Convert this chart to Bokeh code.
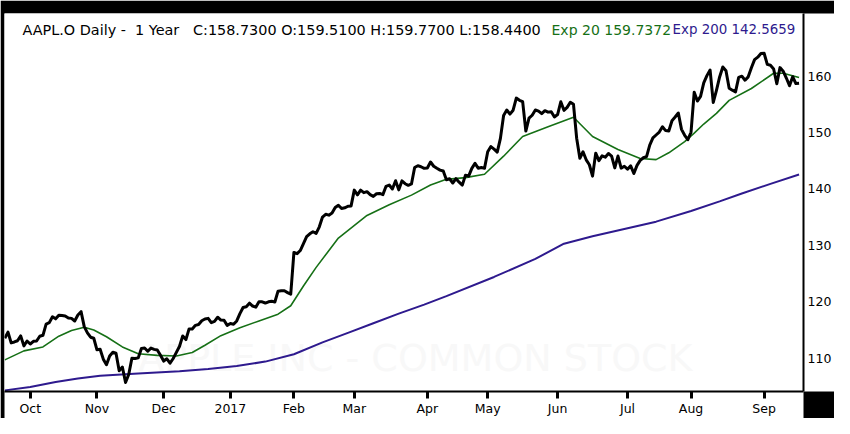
from bokeh.plotting import figure
from bokeh.models import FixedTicker, Range1d, Label
from bokeh.embed import file_html
from bokeh.resources import INLINE

# ---- data (daily closes, trading-day order) ----
close_2016_09 = [113.55, 114.62, 112.71, 112.88, 113.09, 113.95, 112.18, 113.05]
close_2016_10 = [112.52, 113.00, 113.05, 113.89, 114.06, 116.05, 116.30, 117.34, 116.98, 117.63,
                 117.55, 117.47, 117.12, 117.06, 116.60, 117.65, 118.25, 115.59, 114.48, 113.72, 113.54]
close_2016_11 = [111.49, 111.59, 109.83, 108.84, 110.41, 111.06, 110.88, 107.79, 108.43, 105.71,
                 107.11, 109.99, 109.95, 110.06, 111.73, 111.80, 111.23, 111.79, 111.57, 111.46, 110.52]
close_2016_12 = [109.49, 109.90, 109.11, 109.95, 111.03, 112.12, 113.95, 113.30, 115.19, 115.19,
                 115.82, 115.97, 116.64, 116.95, 117.06, 116.29, 116.52, 117.26, 116.76, 116.73, 115.82]
close_2017_01 = [116.15, 116.02, 116.61, 117.91, 118.99, 119.11, 119.75, 119.25, 119.04, 120.00,
                 119.99, 119.78, 120.00, 120.08, 119.97, 121.88, 121.94, 121.95, 121.63, 121.35]
close_2017_02 = [128.75, 128.53, 129.08, 130.29, 131.53, 132.04, 132.42, 132.12, 133.29, 135.02,
                 135.51, 135.35, 135.72, 136.70, 137.11, 136.53, 136.66, 136.93, 136.99]
close_2017_03 = [139.79, 138.96, 139.78, 139.34, 139.52, 139.00, 138.68, 139.14, 139.20, 138.99,
                 140.46, 140.69, 139.99, 141.46, 139.84, 141.42, 140.92, 140.64, 140.88, 143.80,
                 144.12, 143.93, 143.66]
close_2017_04 = [143.70, 144.77, 144.02, 143.66, 143.34, 143.17, 141.63, 141.80, 141.05, 141.83,
                 141.20, 140.68, 142.44, 142.27, 143.64, 144.53, 143.68, 143.79, 143.65]
close_2017_05 = [146.58, 147.51, 147.06, 146.53, 148.96, 153.01, 153.99, 153.26, 153.95, 156.10,
                 155.70, 155.47, 150.25, 152.54, 153.06, 153.99, 153.80, 153.34, 153.87, 153.61,
                 153.67, 152.76]
close_2017_06 = [153.18, 155.45, 153.93, 154.45, 155.37, 154.99, 148.98, 145.42, 146.59, 145.16,
                 144.29, 142.27, 146.34, 145.01, 145.87, 145.63, 146.28, 145.82, 143.73, 145.83,
                 143.68, 144.02]
close_2017_07 = [143.50, 144.09, 142.73, 144.18, 145.06, 145.53, 145.74, 147.77, 149.04, 149.56,
                 150.08, 151.02, 150.34, 150.27, 152.09, 152.74, 153.46, 150.56, 149.50, 148.73]
close_2017_08 = [150.05, 157.14, 155.57, 156.39, 158.81, 160.08, 161.06, 155.32, 157.48, 159.85,
                 161.60, 160.95, 157.86, 157.50, 157.21, 159.78, 159.98, 159.27, 159.86, 161.47,
                 162.91, 163.35, 164.00]
close_2017_09 = [164.05, 162.08, 161.91, 161.26, 158.63, 161.50, 160.86, 159.65, 158.28, 159.88,
                 158.67, 158.73]

months = [close_2016_09, close_2016_10, close_2016_11, close_2016_12, close_2017_01, close_2017_02,
          close_2017_03, close_2017_04, close_2017_05, close_2017_06, close_2017_07, close_2017_08,
          close_2017_09]
month_labels = ["Oct", "Nov", "Dec", "2017", "Feb", "Mar", "Apr", "May", "Jun", "Jul", "Aug", "Sep"]

# 20-day exponential average
ema20_idx = [0, 6, 12, 17, 21, 25, 28, 32, 37, 42, 48, 54, 59, 63, 68, 74, 80, 86, 90, 94, 98,
             105, 114, 121, 128, 134, 139, 145, 151, 157, 163, 171, 179, 185, 193, 200, 205, 209,
             214, 217, 220, 224, 228, 235, 242, 245, 250]
ema20_val = [109.7, 111.3, 112.0, 113.9, 114.9, 115.5, 115.0, 113.8, 112.0, 110.8, 110.5, 110.4,
             111.0, 112.3, 114.0, 115.4, 116.6, 117.8, 119.3, 122.8, 126.1, 131.3, 135.3, 137.2,
             138.9, 140.7, 141.7, 142.0, 142.6, 145.8, 149.3, 151.0, 152.7, 149.3, 147.0, 145.4,
             145.2, 146.4, 148.4, 149.9, 151.5, 153.4, 155.7, 157.8, 160.5, 160.5, 159.74]

# 200-day exponential average
ema200_idx = [0, 8, 16, 23, 30, 42, 55, 64, 73, 82, 91, 100, 108, 116, 124, 132, 139, 154, 167,
              176, 185, 195, 205, 216, 225, 232, 241, 250]
ema200_val = [104.3, 104.9, 105.8, 106.4, 106.9, 107.3, 107.7, 108.1, 108.6, 109.4, 110.7, 112.8,
              114.5, 116.2, 117.9, 119.5, 121.0, 124.4, 127.6, 130.3, 131.6, 132.9, 134.2, 136.1,
              137.8, 139.2, 140.9, 142.57]

price_ticks = [110, 120, 130, 140, 150, 160]

NB = "\u00a0"
title_main = ("AAPL.O Daily -" + NB + NB + "1 Year" + NB + NB + NB
              + "C:158.7300 O:159.5100 H:159.7700 L:158.4400")
title_exp20 = "Exp 20 159.7372"
title_exp200 = "Exp 200 142.5659"
watermark = "APPLE INC - COMMON STOCK"

# ---- build ----
closes = [v for m in months for v in m]
x_idx = list(range(len(closes)))
month_start = []
pos = 0
for m in months[:-1]:
    pos += len(m)
    month_start.append(pos)

GREEN = "#167016"
PURPLE = "#2e1a8e"
FONT = "DejaVu Sans"

p = figure(width=834, height=418, output_backend="svg", toolbar_location=None,
           x_range=Range1d(-0.1, 251.4), y_range=Range1d(104.1, 171.09),
           y_axis_location="right", min_border_left=4, min_border_top=13,
           min_border_bottom=24, min_border_right=30)
p.background_fill_color = "white"
p.outline_line_color = None
p.grid.visible = False

xa = p.xaxis[0]
ya = p.yaxis[0]
axis_bg = "background_fill_color" in type(xa).properties()
if axis_bg:
    p.border_fill_color = "black"
    xa.background_fill_color = "white"
    ya.background_fill_color = "white"
else:
    p.border_fill_color = "white"

# watermark
p.add_layout(Label(x=688, y=34, x_units="screen", y_units="screen", text=watermark,
                   text_align="right", text_baseline="middle", text_font=FONT,
                   text_font_size="38px", text_color="#f8f8f8", level="underlay"))

p.line(ema200_idx, ema200_val, line_color=PURPLE, line_width=2)
p.line(ema20_idx, ema20_val, line_color=GREEN, line_width=1.6)
p.line(x_idx, closes, line_color="black", line_width=3, line_join="round")

xa.ticker = FixedTicker(ticks=month_start)
xa.major_label_overrides = {t: l for t, l in zip(month_start, month_labels)}
xa.major_tick_in = 0
xa.major_tick_out = 7
xa.major_tick_line_width = 3
xa.minor_tick_line_color = None
xa.axis_line_width = 2
xa.major_label_text_align = "left"
xa.major_label_standoff = 2
xa.major_label_text_font = FONT
xa.major_label_text_font_size = "12.5px"
xa.major_label_text_color = "black"

ya.ticker = FixedTicker(ticks=price_ticks)
ya.major_tick_in = 0
ya.major_tick_out = 0
ya.minor_tick_line_color = None
ya.axis_line_width = 2
ya.major_label_standoff = 4
ya.major_label_text_font = FONT
ya.major_label_text_font_size = "12.5px"
ya.major_label_text_color = "black"

for txt, sx, size, col in [(title_main, 18, "14.4px", "black"),
                           (title_exp20, 547, "14px", GREEN),
                           (title_exp200, 668, "13.4px", PURPLE)]:
    p.add_layout(Label(x=sx, y=168.22, x_units="screen", y_units="data",
                       text=txt, text_font=FONT, text_font_size=size, text_color=col,
                       text_baseline="alphabetic", text_align="left"))

open("out.html", "w").write(file_html(p, INLINE))
